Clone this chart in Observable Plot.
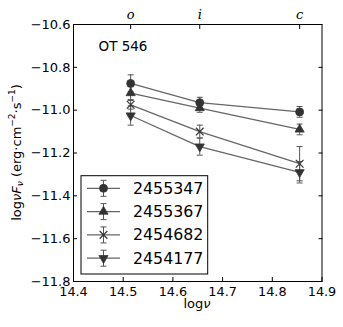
<!DOCTYPE html>
<html><head><meta charset="utf-8">
<script src="https://cdn.jsdelivr.net/npm/d3@7"></script>
<script src="https://cdn.jsdelivr.net/npm/@observablehq/plot@0.6"></script>
<style>body{margin:0;background:#fff;} #c{width:343px;height:327px;}</style>
</head><body><div id="c"></div>
<script>
// ---- data ----
const bands = ["o", "i", "c"];
const logNu = [14.515, 14.654, 14.855];
const seriesNames = ["2455347", "2455367", "2454682", "2454177"];
const f2455347 = [-10.875, -10.965, -11.008];
const e2455347 = [0.04, 0.025, 0.025];
const f2455367 = [-10.92, -10.99, -11.09];
const e2455367 = [0.03, 0.02, 0.025];
const f2454682 = [-10.975, -11.10, -11.25];
const e2454682 = [0.02, 0.03, 0.08];
const f2454177 = [-11.025, -11.17, -11.29];
const e2454177 = [0.045, 0.04, 0.05];
const xTicks = [14.4, 14.5, 14.6, 14.7, 14.8, 14.9];
const yTicks = [-11.8, -11.6, -11.4, -11.2, -11.0, -10.8, -10.6];
const annotation = "OT 546";

const values = [f2455347, f2455367, f2454682, f2454177];
const errors = [e2455347, e2455367, e2454682, e2454177];
const rows = [];
seriesNames.forEach((s, k) => logNu.forEach((x, i) => rows.push({series: s, k, x, y: values[k][i], e: errors[k][i]})));

// ---- symbols ----
const sqrt3 = Math.sqrt(3);
const triDown = {draw(ctx, size) {
  const y = -Math.sqrt(size / (sqrt3 * 3));
  ctx.moveTo(0, -y * 2); ctx.lineTo(-sqrt3 * y, y); ctx.lineTo(sqrt3 * y, y); ctx.closePath();
}};
const cap = {draw(ctx) { ctx.moveTo(-3, 0); ctx.lineTo(3, 0); }};
const symbols = [d3.symbolCircle, d3.symbolTriangle, d3.symbolTimes, triDown];
const radii = [4, 3.4, 3.6, 3.4];

const lineColor = "#666", markColor = "#333", errColor = "#555";
const fmt = d3.format(".1f");

const dotMarks = seriesNames.map((s, k) => Plot.dot(rows.filter(d => d.k === k), {
  x: "x", y: "y", symbol: symbols[k], r: radii[k],
  fill: k === 2 ? "none" : markColor, stroke: markColor, strokeWidth: k === 2 ? 1.2 : 0.8
}));

const chart = Plot.plot({
  width: 343, height: 327,
  marginLeft: 73, marginRight: 21.5, marginTop: 24, marginBottom: 46,
  style: {fontFamily: "DejaVu Sans", fontSize: "13px", color: "black", background: "white"},
  x: {domain: [14.4, 14.9]},
  y: {domain: [-11.8, -10.6]},
  marks: [
    Plot.axisX({anchor: "bottom", ticks: xTicks, tickSize: 0, tickPadding: 5, tickFormat: fmt, label: null, fontSize: 12.8}),
    Plot.axisX({anchor: "bottom", ticks: xTicks, tickSize: -4, tickFormat: () => "", label: null}),
    Plot.axisX({anchor: "top", ticks: logNu, tickSize: 0, tickPadding: 6, tickFormat: d => bands[logNu.indexOf(d)], label: null, fontFamily: "DejaVu Serif", fontStyle: "italic", fontSize: 13}),
    Plot.axisX({anchor: "top", ticks: logNu, tickSize: -4, tickFormat: () => "", label: null}),
    Plot.axisY({anchor: "left", ticks: yTicks, tickSize: 0, tickPadding: 3, tickFormat: fmt, label: null, fontSize: 13}),
    Plot.axisY({anchor: "left", ticks: yTicks, tickSize: -4, tickFormat: () => "", label: null}),
    Plot.axisY({anchor: "right", ticks: yTicks, tickSize: -4, tickFormat: () => "", label: null}),
    Plot.line(rows, {x: "x", y: "y", z: "series", stroke: lineColor, strokeWidth: 1.3}),
    Plot.ruleX(rows, {x: "x", y1: d => d.y - d.e, y2: d => d.y + d.e, stroke: errColor, strokeWidth: 1}),
    Plot.dot(rows, {x: "x", y: d => d.y - d.e, symbol: cap, stroke: errColor, strokeWidth: 1}),
    Plot.dot(rows, {x: "x", y: d => d.y + d.e, symbol: cap, stroke: errColor, strokeWidth: 1}),
    ...dotMarks,
    Plot.text([annotation], {frameAnchor: "top-left", dx: 25, dy: 22, text: d => d, fontSize: 13.5, textAnchor: "start", lineAnchor: "middle", fill: "black"}),
    Plot.frame({stroke: "black", strokeWidth: 1})
  ]
});
document.getElementById("c").appendChild(chart);

// ---- axis labels and legend ----
const svg = d3.select(chart);
const xl = svg.append("text").attr("x", 197).attr("y", 304).attr("text-anchor", "middle")
  .attr("dominant-baseline", "middle").attr("font-size", 13).attr("fill", "black");
xl.append("tspan").text("log");
xl.append("tspan").attr("font-style", "italic").text("ν");

const yl = svg.append("text").attr("transform", "translate(17,152.5) rotate(-90)").attr("text-anchor", "middle")
  .attr("dominant-baseline", "middle").attr("font-size", 13).attr("fill", "black");
yl.append("tspan").text("log");
yl.append("tspan").attr("font-style", "italic").text("νF");
yl.append("tspan").attr("font-style", "italic").attr("font-size", 9).attr("dy", 3).text("ν");
yl.append("tspan").attr("dy", -3).text(" (erg·cm");
yl.append("tspan").attr("font-size", 9).attr("dy", -5).text("−2");
yl.append("tspan").attr("dy", 5).text("·s");
yl.append("tspan").attr("font-size", 9).attr("dy", -5).text("−1");
yl.append("tspan").attr("dy", 5).text(")");

const lg = svg.append("g");
lg.append("rect").attr("x", 81).attr("y", 175.7).attr("width", 126.7).attr("height", 98.3)
  .attr("fill", "white").attr("stroke", "black").attr("stroke-width", 1);
seriesNames.forEach((s, k) => {
  const y = 188.3 + k * 23.3, cx = 103.5;
  lg.append("line").attr("x1", 87).attr("x2", 120).attr("y1", y).attr("y2", y).attr("stroke", lineColor).attr("stroke-width", 1.3);
  lg.append("line").attr("x1", cx).attr("x2", cx).attr("y1", y - 8).attr("y2", y + 8).attr("stroke", errColor);
  [y - 8, y + 8].forEach(yy => lg.append("line").attr("x1", cx - 3).attr("x2", cx + 3).attr("y1", yy).attr("y2", yy).attr("stroke", errColor));
  lg.append("path").attr("transform", `translate(${cx},${y})`).attr("d", d3.symbol(symbols[k], radii[k] * radii[k] * Math.PI)())
    .attr("fill", k === 2 ? "none" : markColor).attr("stroke", markColor).attr("stroke-width", k === 2 ? 1.2 : 0.8);
  lg.append("text").attr("x", 133).attr("y", y).attr("text-anchor", "start").attr("dominant-baseline", "central")
    .attr("font-size", 15.8).attr("fill", "black").text(s);
});
</script></body></html>
